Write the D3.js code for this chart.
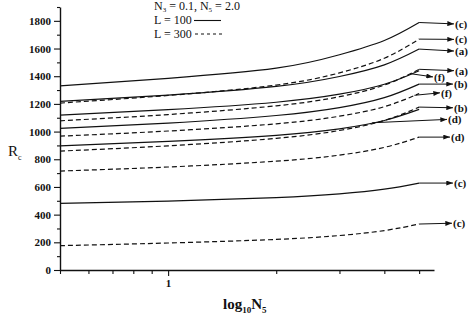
<!DOCTYPE html>
<html>
<head>
<meta charset="utf-8">
<script src="https://cdn.jsdelivr.net/npm/d3@7"></script>
<style>
  body { margin: 0; background: #fff; }
  svg text { font-family: "Liberation Serif", "DejaVu Serif", serif; fill: #111; }
</style>
</head>
<body>
<svg id="chart" width="472" height="315"></svg>
<script>
var n5 = [0.5, 1, 2, 3, 4, 5];

// L = 100 (solid)
var solidC1 = [1330, 1385, 1458, 1555, 1658, 1788];
var solidA  = [1218, 1263, 1326, 1398, 1482, 1596];
var solidF  = [1119, 1158, 1212, 1270, 1342, 1440];
var solidB  = [1023, 1061, 1116, 1173, 1245, 1343];
var solidD  = [897, 929, 973, 1020, 1080, 1160];
var solidC2 = [481, 498, 523, 550, 584, 628];

// L = 300 (dashed)
var dashC1 = [1206, 1261, 1336, 1424, 1530, 1668];
var dashA  = [1078, 1123, 1186, 1252, 1336, 1450];
var dashF  = [967, 1004, 1056, 1111, 1180, 1275];
var dashB  = [859, 897, 951, 1008, 1080, 1177];
var dashD  = [715, 744, 786, 830, 886, 960];
var dashC2 = [176, 195, 221, 249, 285, 332];

var seriesNames = ['c', 'a', 'f', 'b', 'd', 'c', 'c', 'a', 'f', 'b', 'd', 'c'];
var seriesVals = [solidC1, solidA, solidF, solidB, solidD, solidC2,
                  dashC1, dashA, dashF, dashB, dashD, dashC2];
var seriesDash = [false, false, false, false, false, false, true, true, true, true, true, true];

// arrow start (N5 on the curve) and label height (Rc) for each curve label
var arrowFrom = [5, 5, 4.75, 5, 3.7, 5, 5, 5, 4.85, 5, 5, 5];
var labelAt   = [1778, 1666, 1582, 1440, 1395, 1343, 1280, 1172, 1088, 960, 628, 338];

var yMajor = [0, 200, 400, 600, 800, 1000, 1200, 1400, 1600, 1800];
var yMinor = [100, 300, 500, 700, 900, 1100, 1300, 1500, 1700, 1900];
var xMajor = [1];
var xMinor = [0.5, 0.6, 0.7, 0.8, 0.9, 2, 3, 4, 5];

var svg = d3.select('#chart');
var x = d3.scaleLog().domain([0.5, 5.5]).range([60, 434]);
var y = d3.scaleLinear().domain([0, 1900]).range([270, 7]);

// axes
svg.append('g')
    .attr('transform', 'translate(60,0)')
    .call(d3.axisLeft(y).tickValues(yMinor).tickSize(3).tickFormat(''))
    .call(g => g.select('.domain').remove());
var yAx = svg.append('g')
    .attr('transform', 'translate(60,0)')
    .call(d3.axisLeft(y).tickValues(yMajor).tickSize(6).tickSizeOuter(0).tickPadding(3).tickFormat(d3.format('d')));
yAx.selectAll('text').style('font-size', '11px').style('font-weight', 'bold');

svg.append('g')
    .attr('transform', 'translate(0,270)')
    .call(d3.axisBottom(x).tickValues(xMinor).tickSize(4).tickFormat(''))
    .call(g => g.select('.domain').remove());
var xAx = svg.append('g')
    .attr('transform', 'translate(0,270)')
    .call(d3.axisBottom(x).tickValues(xMajor).tickSize(6).tickSizeOuter(0).tickPadding(3).tickFormat(d3.format('d')));
xAx.selectAll('text').style('font-size', '11px').style('font-weight', 'bold');

svg.selectAll('.domain').attr('stroke', '#111').attr('stroke-width', 1.4);
svg.selectAll('.tick line').attr('stroke', '#111').attr('stroke-width', 1.1);

// curves
var line = d3.line()
    .x((d, i) => x(n5[i]))
    .y(d => y(d))
    .curve(d3.curveNatural);

svg.selectAll('.curve')
    .data(seriesVals)
    .join('path')
    .attr('class', 'curve')
    .attr('d', line)
    .attr('fill', 'none')
    .attr('stroke', '#111')
    .attr('stroke-width', 1.2)
    .attr('stroke-dasharray', (d, i) => seriesDash[i] ? '5,3' : null);

// arrow markers
svg.append('defs').append('marker')
    .attr('id', 'arr')
    .attr('viewBox', '0 0 8 6')
    .attr('refX', 8).attr('refY', 3)
    .attr('markerWidth', 7).attr('markerHeight', 5)
    .attr('orient', 'auto')
    .append('path')
    .attr('d', 'M0,0L8,3L0,6Z')
    .attr('fill', '#111');

function valueAt(vals, n) {
    var interp = d3.scaleLog().domain(n5).range(vals);
    return interp(n);
}

// label order: top to bottom on the right side
var labelOrder = [0, 6, 1, 7, 2, 3, 8, 9, 4, 10, 5, 11];
var labelX = {0: 455, 6: 455, 1: 455, 7: 455, 2: 434, 3: 454, 8: 441, 9: 454, 4: 448, 10: 451, 5: 454, 11: 453};

labelOrder.forEach(function(si, k) {
    var ax = x(arrowFrom[si]);
    var ay = y(valueAt(seriesVals[si], arrowFrom[si]));
    var ly = y(labelAt[k]);
    var lx = labelX[si];
    svg.append('line')
        .attr('x1', ax).attr('y1', ay)
        .attr('x2', lx - 1).attr('y2', ly)
        .attr('stroke', '#111')
        .attr('stroke-width', 1)
        .attr('marker-end', 'url(#arr)');
    svg.append('text')
        .attr('x', lx)
        .attr('y', ly + 4)
        .style('font-size', '11px')
        .style('font-weight', 'bold')
        .text('(' + seriesNames[si] + ')');
});

// legend
var lg = svg.append('g').style('font-size', '12px');
var t1 = lg.append('text').attr('x', 154).attr('y', 10);
t1.append('tspan').text('N');
t1.append('tspan').attr('dy', 1.5).style('font-size', '7px').text('3');
t1.append('tspan').attr('dy', -1.5).text(' = 0.1, N');
t1.append('tspan').attr('dy', 1.5).style('font-size', '7px').text('5');
t1.append('tspan').attr('dy', -1.5).text(' = 2.0');
lg.append('text').attr('x', 154).attr('y', 24).text('L = 100');
lg.append('line').attr('x1', 194).attr('x2', 221).attr('y1', 20.5).attr('y2', 20.5)
    .attr('stroke', '#111').attr('stroke-width', 1.1);
lg.append('text').attr('x', 154).attr('y', 37.5).text('L = 300');
lg.append('line').attr('x1', 195).attr('x2', 224).attr('y1', 34).attr('y2', 34)
    .attr('stroke', '#111').attr('stroke-width', 1.1).attr('stroke-dasharray', '3,3');

// axis titles
var yt = svg.append('text').attr('x', 8).attr('y', 156).style('font-size', '15px');
yt.append('tspan').text('R');
yt.append('tspan').attr('dy', 4).style('font-size', '8px').text('c');

var xt = svg.append('text').attr('x', 223).attr('y', 309)
    .style('font-size', '15px').style('font-weight', 'bold');
xt.append('tspan').text('log');
xt.append('tspan').attr('dy', 4).style('font-size', '9px').text('10');
xt.append('tspan').attr('dy', -4).text('N');
xt.append('tspan').attr('dy', 4).style('font-size', '9px').text('5');
</script>
</body>
</html>
